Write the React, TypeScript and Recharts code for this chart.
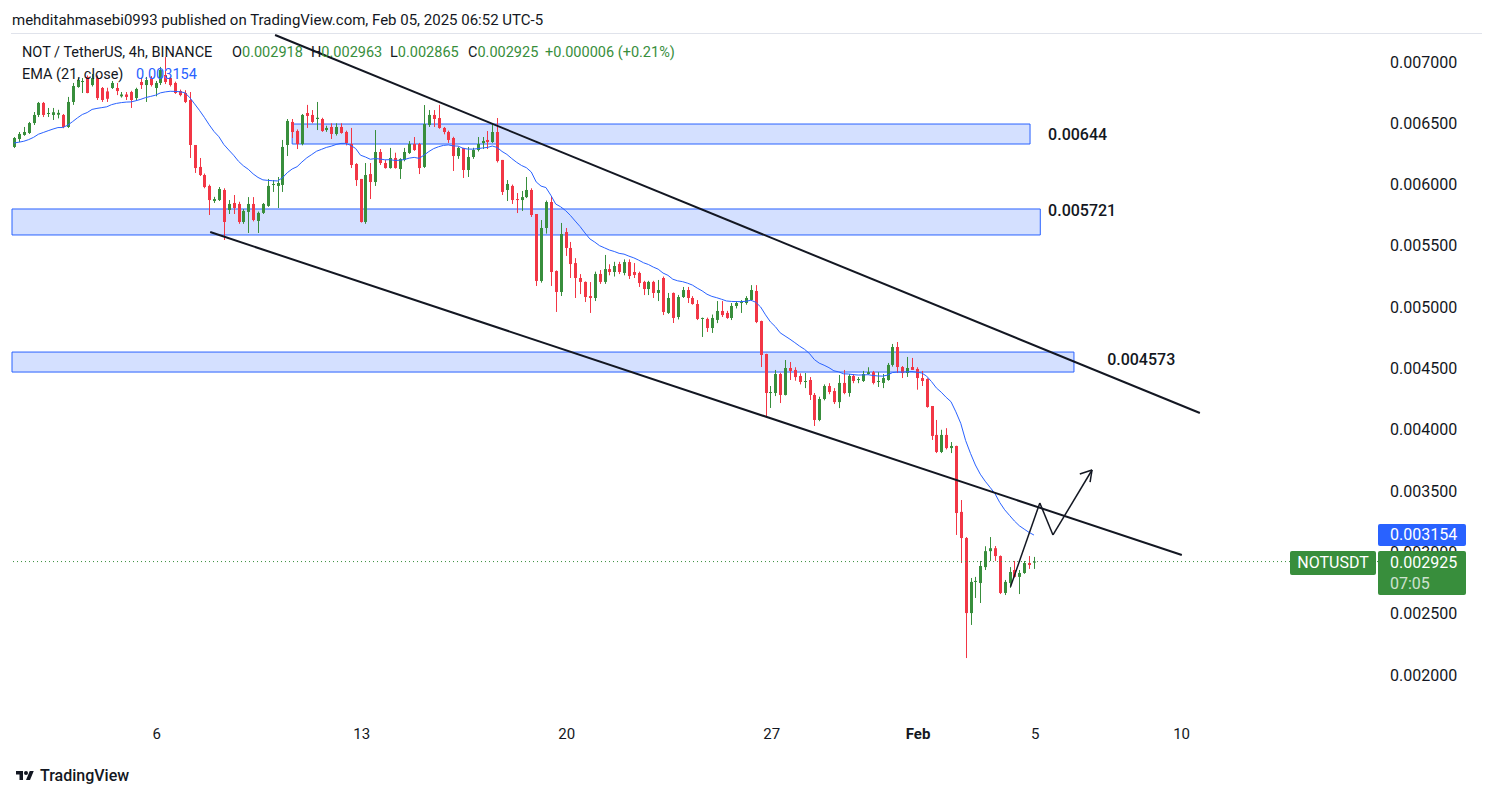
import {
  ComposedChart,
  Bar,
  Line,
  XAxis,
  YAxis,
  ReferenceArea,
  ReferenceLine,
  ReferenceDot,
} from "recharts";

// NOT/USDT 4h candles, prices in millionths of USDT (0.006500 -> 6500)
const opens = [
  6307, 6372, 6405, 6421, 6502, 6568, 6666, 6576, 6568, 6570, 6568, 6470, 6674, 6796, 6839, 6878, 6812, 6869, 6788, 6760,
  6788, 6788, 6720, 6735, 6755, 6706, 6837, 6812, 6869, 6788, 6829, 6894, 6869, 6829, 6763, 6747, 6690, 6323, 6144, 6078,
  5989, 5866, 5874, 5956, 5793, 5850, 5842, 5695, 5777, 5842, 5703, 5769, 5826, 5997, 5989, 5997, 6323, 6511, 6437, 6331,
  6584, 6568, 6535, 6535, 6445, 6470, 6413, 6470, 6429, 6331, 6168, 6046, 5695, 6086, 6021, 6266, 6176, 6135, 6217, 6127,
  6201, 6258, 6331, 6331, 6144, 6486, 6568, 6543, 6462, 6429, 6380, 6233, 6299, 6119, 6225, 6282, 6339, 6364, 6347, 6429,
  6201, 5956, 5989, 5882, 5874, 5898, 5956, 5760, 5214, 5646, 5858, 5295, 5124, 5613, 5483, 5360, 5238, 5206, 5091, 5075,
  5271, 5206, 5311, 5287, 5352, 5279, 5368, 5287, 5279, 5206, 5148, 5206, 5116, 5238, 4953, 5116, 4920, 5083, 5140, 5075,
  5026, 4904, 4904, 4830, 4896, 4969, 4953, 4912, 5010, 5034, 5034, 5059, 5132, 4887, 4618, 4300, 4300, 4455, 4284, 4504,
  4488, 4439, 4390, 4406, 4284, 4080, 4251, 4357, 4316, 4226, 4382, 4300, 4439, 4406, 4398, 4455, 4470, 4390, 4382, 4406,
  4529, 4675, 4512, 4463, 4512, 4496, 4422, 4414, 4194, 3958, 3819, 3958, 3851, 3868, 3330, 3117, 2505, 2759, 2750, 2880,
  3010, 3034, 2970, 2669, 2750, 2856, 2800, 2832, 2913, 2918,
];
const highs = [
  6388, 6429, 6470, 6511, 6592, 6674, 6674, 6625, 6625, 6610, 6576, 6715, 6829, 6869, 6869, 6890, 6902, 6890, 6796, 6790,
  6845, 6829, 6755, 6755, 6765, 6790, 6869, 6878, 6885, 6845, 6960, 7040, 6885, 6840, 6775, 6770, 6755, 6323, 6217, 6090,
  6000, 5900, 5980, 5970, 5874, 5915, 5860, 5800, 5898, 5898, 5780, 5850, 6046, 6037, 6062, 6364, 6535, 6535, 6450, 6576,
  6650, 6608, 6674, 6545, 6480, 6500, 6500, 6500, 6440, 6462, 6175, 6046, 6176, 6176, 6445, 6290, 6200, 6299, 6260, 6215,
  6299, 6355, 6388, 6340, 6649, 6608, 6608, 6650, 6470, 6440, 6390, 6310, 6299, 6307, 6300, 6388, 6388, 6437, 6494, 6543,
  6201, 6037, 6000, 5931, 5948, 6062, 5970, 5760, 5711, 5870, 5907, 5300, 5687, 5646, 5532, 5400, 5270, 5210, 5205, 5290,
  5303, 5426, 5350, 5370, 5370, 5390, 5390, 5360, 5290, 5215, 5215, 5215, 5222, 5250, 5116, 5120, 5100, 5165, 5165, 5090,
  5058, 4915, 4915, 4940, 5050, 5050, 4970, 5034, 5050, 5058, 5090, 5180, 5180, 4890, 4620, 4357, 4488, 4465, 4569, 4553,
  4510, 4460, 4463, 4430, 4300, 4270, 4370, 4380, 4340, 4447, 4488, 4455, 4455, 4430, 4480, 4510, 4480, 4470, 4455, 4545,
  4700, 4716, 4520, 4594, 4586, 4510, 4480, 4420, 4194, 4080, 4000, 4013, 3900, 3870, 3427, 3125, 2791, 2800, 2930, 3050,
  3125, 3052, 2975, 2775, 2880, 2930, 2856, 2930, 2970, 2963,
];
const lows = [
  6298, 6347, 6398, 6413, 6486, 6551, 6551, 6551, 6527, 6540, 6460, 6462, 6650, 6790, 6747, 6745, 6800, 6690, 6674, 6674,
  6780, 6730, 6710, 6690, 6625, 6690, 6780, 6674, 6800, 6720, 6812, 6820, 6800, 6740, 6720, 6665, 6217, 6095, 6070, 5970,
  5752, 5850, 5866, 5548, 5760, 5760, 5680, 5680, 5605, 5700, 5605, 5760, 5818, 5940, 5809, 5940, 6233, 6380, 6290, 6320,
  6462, 6500, 6445, 6430, 6430, 6372, 6400, 6415, 6320, 6135, 5989, 5690, 5680, 5882, 5989, 6160, 6130, 6130, 6130, 6046,
  6190, 6250, 6275, 6086, 6135, 6470, 6470, 6455, 6410, 6340, 6111, 6210, 6054, 6062, 6210, 6270, 6290, 6290, 6340, 6180,
  5915, 5866, 5842, 5768, 5785, 5890, 5736, 5173, 5200, 5600, 5173, 4961, 5091, 5418, 5238, 5075, 5107, 5042, 4953, 5050,
  5190, 5190, 5260, 5250, 5270, 5260, 5230, 5238, 5165, 5099, 5099, 5075, 5050, 4936, 4945, 4871, 4900, 5075, 5034, 5020,
  4895, 4757, 4798, 4790, 4870, 4920, 4905, 4895, 4990, 4953, 5020, 5050, 4870, 4512, 4104, 4178, 4275, 4218, 4280, 4406,
  4400, 4370, 4340, 4243, 4031, 4070, 4240, 4290, 4210, 4177, 4290, 4270, 4380, 4380, 4390, 4450, 4370, 4349, 4340, 4400,
  4515, 4463, 4422, 4431, 4488, 4327, 4357, 4180, 3917, 3810, 3810, 3840, 3810, 3142, 2913, 2138, 2408, 2628, 2587, 2856,
  2930, 2930, 2660, 2652, 2710, 2795, 2660, 2825, 2865, 2865,
];
const closes = [
  6380, 6413, 6429, 6502, 6568, 6666, 6568, 6584, 6590, 6585, 6470, 6674, 6804, 6853, 6845, 6747, 6869, 6706, 6690, 6700,
  6829, 6763, 6735, 6715, 6690, 6780, 6812, 6853, 6812, 6829, 6935, 6837, 6812, 6747, 6730, 6674, 6323, 6135, 6078, 5980,
  5874, 5882, 5964, 5695, 5842, 5809, 5695, 5785, 5842, 5711, 5769, 5842, 5989, 6005, 6013, 6307, 6519, 6429, 6331, 6568,
  6560, 6511, 6545, 6437, 6462, 6413, 6470, 6421, 6339, 6160, 6037, 5695, 6078, 6021, 6266, 6176, 6135, 6217, 6135, 6209,
  6266, 6331, 6282, 6135, 6494, 6568, 6535, 6462, 6429, 6364, 6233, 6299, 6119, 6225, 6282, 6331, 6356, 6347, 6429, 6192,
  5940, 6005, 5874, 5874, 5898, 5956, 5752, 5214, 5646, 5858, 5287, 5124, 5597, 5483, 5352, 5238, 5206, 5083, 5075, 5271,
  5206, 5311, 5287, 5336, 5287, 5368, 5254, 5263, 5197, 5148, 5206, 5116, 5140, 4961, 5075, 4912, 5083, 5140, 5075, 5026,
  4904, 4912, 4830, 4912, 4969, 4936, 4912, 5010, 5034, 5042, 5075, 5140, 4879, 4610, 4300, 4308, 4455, 4284, 4504, 4480,
  4430, 4390, 4398, 4284, 4080, 4251, 4357, 4308, 4226, 4382, 4300, 4439, 4398, 4414, 4455, 4470, 4382, 4398, 4422, 4529,
  4675, 4512, 4463, 4504, 4488, 4422, 4398, 4186, 3950, 3819, 3958, 3851, 3868, 3321, 3117, 2505, 2759, 2767, 2889, 3010,
  3034, 2970, 2669, 2759, 2840, 2800, 2832, 2913, 2897, 2925,
];

const EMA_LEN = 21;
const EMA_PREV = 6335; // EMA value just before the first visible candle

const dayTicks = [29.25, 71.25, 113.25, 155.25, 185.25, 209.25, 239.25];
const dayLabels = ["6", "13", "20", "27", "Feb", "5", "10"];
const priceTicks = [0.002, 0.0025, 0.003, 0.0035, 0.004, 0.0045, 0.005, 0.0055, 0.006, 0.0065, 0.007];

// support / resistance zones: [fromCandle, toCandle, low, high]
const zones = [
  [57, 208.2, 6331, 6494],
  [-0.41, 210.3, 5589, 5801],
  [-0.41, 217.2, 4471, 4634],
];
const zoneLabels = ["0.00644", "0.005721", "0.004573"];
const zoneLabelAt = [
  [211.9, 6413],
  [211.9, 5793],
  [224, 4577],
];

// channel lines [x1, p1, x2, p2]
const channel = [
  [53.5, 7220, 243, 4137],
  [40.2, 5613, 239.3, 2979],
];
// projection arrow path
const arrowPath = [
  [204.2, 2720],
  [210.2, 3403],
  [212.9, 3142],
  [220.9, 3672],
];
const arrowHead = [
  [218.4, 3639],
  [220.5, 3574],
];

const LAST_PRICE = 0.002925;
const GREEN = "#388e3c";
const RED = "#f23645";
const BLUE = "#2962ff";
const INK = "#131722";
const FONT = "Roboto, 'Liberation Sans', sans-serif";

const alpha = 2 / (EMA_LEN + 1);
let ema = EMA_PREV;
const candles = closes.map((c, i) => {
  ema = alpha * c + (1 - alpha) * ema;
  return {
    i,
    open: opens[i] / 1e6,
    high: highs[i] / 1e6,
    low: lows[i] / 1e6,
    close: c / 1e6,
    ema: ema / 1e6,
  };
});

function CandleShape(props: any) {
  const { x, y, width, height, payload } = props;
  const { open, close, high, low } = payload;
  const color = close >= open ? GREEN : RED;
  const k = high > low ? height / (high - low) : 0;
  const yo = y + (high - open) * k;
  const yc = y + (high - close) * k;
  const cx = Math.round(x + width / 2);
  const top = Math.min(yo, yc);
  const h = Math.max(1, Math.abs(yo - yc));
  return (
    <g>
      <line x1={cx + 0.5} x2={cx + 0.5} y1={y} y2={y + height} stroke={color} strokeWidth={1} />
      <rect x={cx - 1} y={top} width={3} height={h} fill={color} />
    </g>
  );
}

function XTick(props: any) {
  const { x, y, payload } = props;
  const idx = dayTicks.indexOf(payload.value);
  const label = dayLabels[idx] ?? "";
  return (
    <text x={x} y={y + 19} textAnchor="middle" fill={INK} fontSize={15} fontFamily={FONT}
      fontWeight={label === "Feb" ? 700 : 400}>
      {label}
    </text>
  );
}

function YTick(props: any) {
  const { x, y, payload } = props;
  return (
    <text x={x + 12} y={y} dy="0.35em" textAnchor="start" fill={INK} fontSize={16} fontFamily={FONT}>
      {Number(payload.value).toFixed(6)}
    </text>
  );
}

const abs = (extra: React.CSSProperties): React.CSSProperties => ({
  position: "absolute",
  fontFamily: FONT,
  whiteSpace: "nowrap",
  ...extra,
});

export default function App() {
  return (
    <div style={{ position: "fixed", left: 0, top: 0, width: 1495, height: 798, background: "#fff", overflow: "hidden" }}>
      <ComposedChart
        width={1495}
        height={798}
        data={candles}
        margin={{ top: 35, right: 0, left: 12, bottom: 48 }}
      >
        <XAxis
          dataKey="i"
          type="number"
          domain={[-0.41, 279.5]}
          allowDataOverflow
          ticks={dayTicks}
          tick={<XTick />}
          tickSize={0}
          tickMargin={0}
          axisLine={false}
          tickLine={false}
          height={30}
        />
        <YAxis
          orientation="right"
          type="number"
          domain={[0.0016327, 0.0072202]}
          allowDataOverflow
          ticks={priceTicks}
          tick={<YTick />}
          tickSize={0}
          tickMargin={0}
          axisLine={false}
          tickLine={false}
          width={117}
        />
        {zones.map((z, n) => (
          <ReferenceArea
            key={"z" + n}
            x1={z[0]}
            x2={z[1]}
            y1={z[2] / 1e6}
            y2={z[3] / 1e6}
            fill={BLUE}
            fillOpacity={0.2}
            stroke={BLUE}
            strokeWidth={1}
            ifOverflow="visible"
          />
        ))}
        {zoneLabels.map((t, n) => (
          <ReferenceDot
            key={"zl" + n}
            x={zoneLabelAt[n][0]}
            y={zoneLabelAt[n][1] / 1e6}
            r={0}
            fill="none"
            stroke="none"
            ifOverflow="visible"
            label={(p: any) => (
              <text x={p.viewBox.x} y={p.viewBox.y} dy="0.35em" fill={INK} fontSize={16} fontWeight={500} fontFamily={FONT}>
                {t}
              </text>
            )}
          />
        ))}
        <ReferenceLine y={LAST_PRICE} stroke={GREEN} strokeDasharray="1 3" ifOverflow="visible" />
        <Line
          dataKey="ema"
          type="linear"
          stroke={BLUE}
          strokeWidth={1}
          dot={false}
          activeDot={false}
          isAnimationActive={false}
        />
        <Bar
          dataKey={(d: any) => [d.low, d.high]}
          barSize={3}
          shape={(p: any) => <CandleShape {...p} />}
          isAnimationActive={false}
        />
        {channel.map((c, n) => (
          <ReferenceLine
            key={"c" + n}
            segment={[
              { x: c[0], y: c[1] / 1e6 },
              { x: c[2], y: c[3] / 1e6 },
            ]}
            stroke={INK}
            strokeWidth={2}
            ifOverflow="visible"
          />
        ))}
        {arrowPath.slice(1).map((pt, n) => (
          <ReferenceLine
            key={"a" + n}
            segment={[
              { x: arrowPath[n][0], y: arrowPath[n][1] / 1e6 },
              { x: pt[0], y: pt[1] / 1e6 },
            ]}
            stroke={INK}
            strokeWidth={1.5}
            ifOverflow="visible"
          />
        ))}
        {arrowHead.map((pt, n) => (
          <ReferenceLine
            key={"h" + n}
            segment={[
              { x: arrowPath[3][0], y: arrowPath[3][1] / 1e6 },
              { x: pt[0], y: pt[1] / 1e6 },
            ]}
            stroke={INK}
            strokeWidth={1.5}
            ifOverflow="visible"
          />
        ))}
      </ComposedChart>

      {/* frame top edge */}
      <div style={{ position: "absolute", left: 11, top: 33, width: 1471, height: 0, borderTop: "1px solid #e0e3eb", pointerEvents: "none" }} />

      {/* header */}
      <div style={abs({ left: 12, top: 11, fontSize: 15, color: INK })}>
        mehditahmasebi0993 published on TradingView.com, Feb 05, 2025 06:52 UTC-5
      </div>
      <div style={abs({ left: 22, top: 44, fontSize: 14.5, color: INK })}>NOT / TetherUS, 4h, BINANCE</div>
      <div style={abs({ left: 232, top: 44, fontSize: 14.5, color: INK })}>
        O<span style={{ color: GREEN }}>0.002918</span>
      </div>
      <div style={abs({ left: 311, top: 44, fontSize: 14.5, color: INK })}>
        H<span style={{ color: GREEN }}>0.002963</span>
      </div>
      <div style={abs({ left: 390, top: 44, fontSize: 14.5, color: INK })}>
        L<span style={{ color: GREEN }}>0.002865</span>
      </div>
      <div style={abs({ left: 468, top: 44, fontSize: 14.5, color: INK })}>
        C<span style={{ color: GREEN }}>0.002925</span>
      </div>
      <div style={abs({ left: 545, top: 44, fontSize: 14.5, color: GREEN })}>+0.000006 (+0.21%)</div>
      <div style={abs({ left: 22, top: 66, fontSize: 14.5, color: INK })}>EMA (21, close)</div>
      <div style={abs({ left: 136, top: 66, fontSize: 14.5, color: BLUE })}>0.003154</div>

      {/* price scale labels */}
      <div style={abs({ left: 1378, top: 524, width: 88, height: 22, background: BLUE, color: "#fff", fontSize: 16, lineHeight: "22px", paddingLeft: 12, boxSizing: "border-box", borderRadius: 2 })}>
        0.003154
      </div>
      <div style={abs({ left: 1290, top: 551, width: 86, height: 24, background: GREEN, color: "#fff", fontSize: 16, lineHeight: "24px", textAlign: "center", borderRadius: 2 })}>
        NOTUSDT
      </div>
      <div style={abs({ left: 1378, top: 551, width: 88, height: 44, background: GREEN, color: "#fff", fontSize: 16, paddingLeft: 12, boxSizing: "border-box", borderRadius: 2 })}>
        <div style={{ lineHeight: "23px" }}>0.002925</div>
        <div style={{ lineHeight: "19px", opacity: 0.75 }}>07:05</div>
      </div>

      {/* footer logo */}
      <svg style={{ position: "absolute", left: 12, top: 769 }} width={26} height={14} viewBox="0 0 36 28">
        <path d="M14 22H7V11H0V4h14v18z" fill={INK} />
        <circle cx="20" cy="8" r="4" fill={INK} />
        <path d="M28 22h-8l7.5-18h8L28 22z" fill={INK} />
      </svg>
      <div style={abs({ left: 40, top: 766, fontSize: 16, color: INK, fontWeight: 500 })}>TradingView</div>
    </div>
  );
}
